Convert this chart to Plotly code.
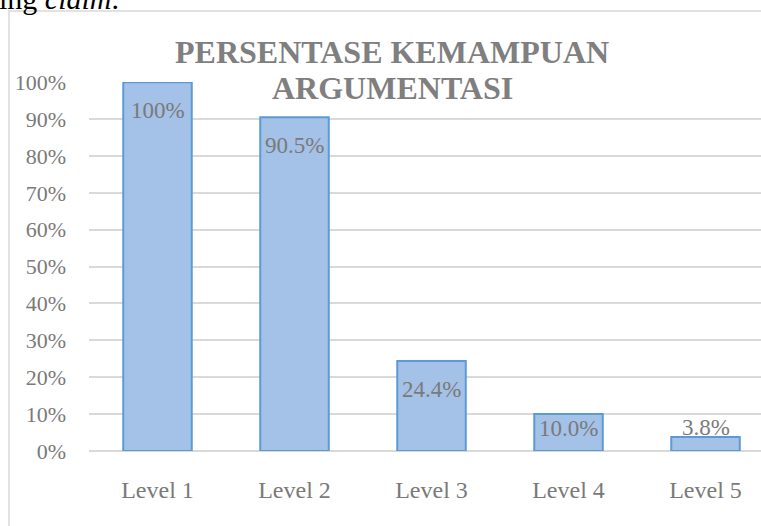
import plotly.graph_objects as go

categories = ["Level 1", "Level 2", "Level 3", "Level 4", "Level 5"]
values = [1.00, 0.905, 0.244, 0.100, 0.038]
value_labels = ["100%", "90.5%", "24.4%", "10.0%", "3.8%"]
label_shift = [-28, -28, -28, -14, 9]

TXT = "#7a7a7a"
FONT = "Liberation Serif"

fig = go.Figure()
fig.add_trace(go.Bar(
    x=categories, y=values,
    marker=dict(color="#a4c1e7", line=dict(color="#5b9bd5", width=2)),
    width=0.5,
    hoverinfo="skip",
))

for c, v, t, s in zip(categories, values, value_labels, label_shift):
    fig.add_annotation(x=c, y=v, text=t, showarrow=False, yshift=s,
                       xref="x", yref="y",
                       font=dict(family=FONT, size=23, color=TXT))

# title (two lines)
title_font = dict(family=FONT, size=32, color="#7f7f7f", weight=700)
fig.add_annotation(xref="paper", yref="paper", x=0.451, y=(451 - 52) / 369,
                   text="PERSENTASE KEMAMPUAN",
                   showarrow=False, xanchor="center", yanchor="middle",
                   font=title_font)
fig.add_annotation(xref="paper", yref="paper", x=0.451, y=(451 - 88) / 369,
                   text="ARGUMENTASI",
                   showarrow=False, xanchor="center", yanchor="middle",
                   font=title_font)

# document text cut off above the chart
fig.add_annotation(xref="paper", yref="paper", x=(-3 - 89) / 672, y=(451 - 17) / 369,
                   text="ing <i>claim</i>.", showarrow=False,
                   xanchor="left", yanchor="bottom",
                   font=dict(family=FONT, size=30, color="#000000"))

# chart border
fig.add_shape(type="rect", xref="paper", yref="paper",
              x0=(9 - 89) / 672, y0=(451 - 540) / 369,
              x1=(780 - 89) / 672, y1=(451 - 11) / 369,
              line=dict(color="#d9d9d9", width=1.5), layer="below")

fig.update_layout(
    width=761, height=526,
    margin=dict(l=89, r=0, t=82, b=75),
    paper_bgcolor="white", plot_bgcolor="white",
    showlegend=False,
    font=dict(family=FONT, size=22, color=TXT),
    xaxis=dict(range=[-0.5, 4.405], showgrid=False, showline=False,
               zeroline=False, ticks="", ticklabelstandoff=22,
               tickfont=dict(family=FONT, size=24, color=TXT)),
    yaxis=dict(range=[0, 1.0005], dtick=0.1, tickformat=".0%",
               showgrid=True, gridcolor="#d9d9d9", gridwidth=1.5,
               zeroline=True, zerolinecolor="#d9d9d9", zerolinewidth=2,
               showline=False, ticks="", ticklabelstandoff=22,
               tickfont=dict(family=FONT, size=22, color=TXT)),
)

fig.write_html("out.html", config={"displayModeBar": False},
               post_script="document.body.style.margin='0';")
